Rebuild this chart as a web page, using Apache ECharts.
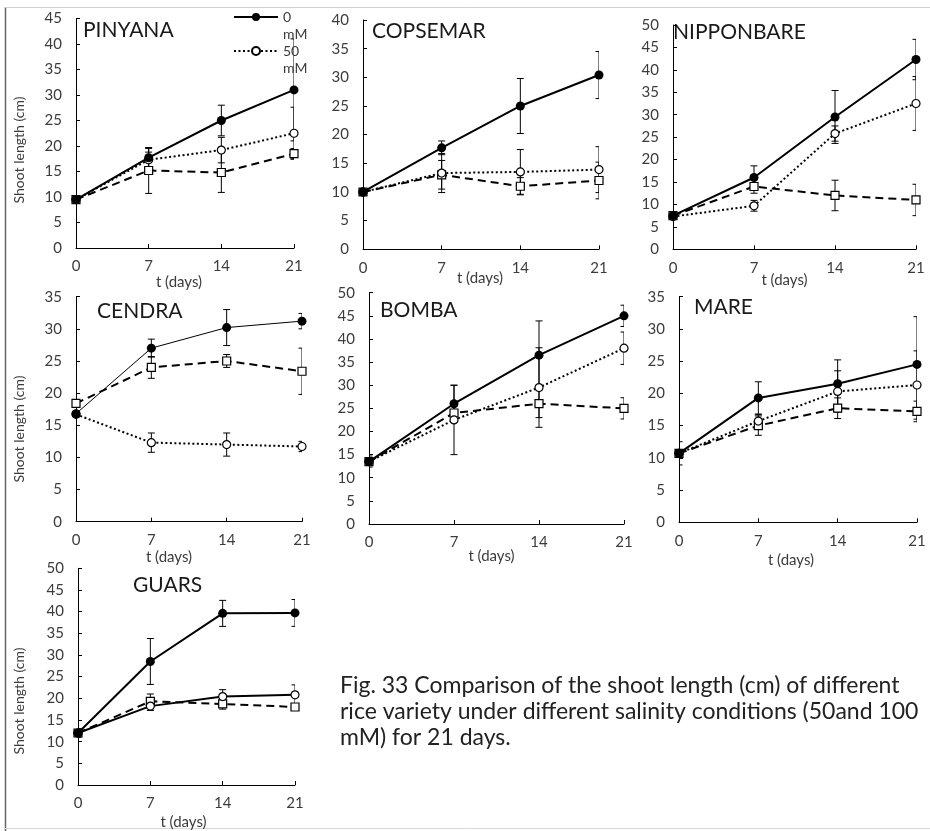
<!DOCTYPE html>
<html>
<head>
<meta charset="utf-8">
<script src="https://cdn.jsdelivr.net/npm/echarts@6/dist/echarts.min.js"></script>
<style>
  html, body { margin: 0; padding: 0; background: #fff; }
  #chart { width: 930px; height: 831px; }
</style>
</head>
<body>
<div id="chart"></div>
<script>
// Sampling days and salinity treatments
const days = [0, 7, 14, 21];
const treatments = ['0 mM', '50 mM', '100 mM'];
const varieties = ['PINYANA', 'COPSEMAR', 'NIPPONBARE', 'CENDRA', 'BOMBA', 'MARE', 'GUARS'];
const yMax = [45, 40, 50, 35, 50, 35, 50];

// Mean shoot length (cm); rows: 0, 50, 100 mM
const pinyanaMean = [[9.5, 17.7, 25.0, 31.0], [9.5, 17.3, 19.2, 22.5], [9.5, 15.2, 14.8, 18.5]];
const pinyanaErr  = [[0, 1.8, 3.0, 10.0], [0, 1.5, 2.5, 5.1], [0, 4.5, 3.9, 1.0]];

const copsemarMean = [[10.0, 17.7, 25.0, 30.4], [10.0, 13.3, 13.5, 13.9], [10.0, 13.0, 11.0, 12.0]];
const copsemarErr  = [[0, 1.2, 4.8, 4.1], [0, 3.4, 3.9, 4.0], [0, 2.5, 1.5, 3.2]];

const nipponbareMean = [[7.5, 16.0, 29.5, 42.3], [7.3, 9.7, 25.8, 32.5], [7.5, 14.0, 12.0, 11.0]];
const nipponbareErr  = [[0, 2.6, 5.9, 4.5], [0, 1.2, 1.7, 6.0], [0, 1.5, 3.4, 3.5]];

const cendraMean = [[16.8, 27.0, 30.2, 31.2], [16.7, 12.3, 12.0, 11.7], [18.4, 24.0, 25.0, 23.4]];
const cendraErr  = [[0, 1.4, 2.8, 1.2], [0.5, 1.5, 1.8, 0.8], [0, 1.7, 1.0, 3.6]];

const bombaMean = [[13.5, 26.0, 36.5, 45.0], [13.5, 22.5, 29.5, 38.0], [13.5, 24.0, 26.0, 25.0]];
const bombaErr  = [[1.2, 4.0, 7.4, 2.3], [0, 7.5, 8.6, 3.5], [0, 1.5, 3.0, 2.3]];

const mareMean = [[10.7, 19.3, 21.5, 24.5], [10.7, 15.7, 20.3, 21.3], [10.7, 15.0, 17.7, 17.2]];
const mareErr  = [[1.8, 2.5, 3.7, 7.4], [0, 1.0, 3.2, 5.3], [0, 1.5, 1.6, 1.6]];

const guarsMean = [[12.0, 28.5, 39.6, 39.7], [12.0, 18.2, 20.4, 20.8], [12.0, 19.3, 18.7, 18.0]];
const guarsErr  = [[0, 5.3, 3.0, 3.1], [1.0, 1.0, 1.6, 2.3], [0, 1.7, 1.2, 0.5]];

const means = [pinyanaMean, copsemarMean, nipponbareMean, cendraMean, bombaMean, mareMean, guarsMean];
const errs  = [pinyanaErr, copsemarErr, nipponbareErr, cendraErr, bombaErr, mareErr, guarsErr];

// Panel geometry (plot area in px) and label placement
const panels = [
  { left: 76,  top: 18.5,  width: 218, height: 229.5, title: [83, 30],  xName: [27, 12], yTitle: 150 },
  { left: 363, top: 20,    width: 236, height: 229.3, title: [372, 31], xName: [21, 2] },
  { left: 673, top: 25,    width: 243, height: 224.3, title: [673, 32], xName: [23, 20] },
  { left: 76,  top: 296.7, width: 226, height: 225,   title: [97, 311], xName: [28, 40], yTitle: 429 },
  { left: 369, top: 292.7, width: 255, height: 231.3, title: [380, 310], xName: [25, 10] },
  { left: 679, top: 296.7, width: 238, height: 225.6, title: [694, 307], xName: [30, 14] },
  { left: 78,  top: 568.3, width: 217, height: 225,   title: [133, 585], xName: [30, 6], yTitle: 701 }
];

const FONT = 'Lato, "Open Sans", sans-serif';
const LABEL = '#3c3c3c';

// Line / marker style per treatment
function treatmentStyle(t, variety) {
  if (t === 0) {
    return {
      symbol: 'circle', symbolSize: 9,
      itemStyle: { color: '#000' },
      lineStyle: { color: '#000', width: variety === 'CENDRA' ? 1 : 2, type: 'solid' }
    };
  }
  if (t === 1) {
    return {
      symbol: 'circle', symbolSize: 8,
      itemStyle: { color: '#fff', borderColor: '#000', borderWidth: 1.2 },
      lineStyle: { color: '#000', width: 2, type: variety === 'GUARS' ? 'solid' : [2, 2.5] }
    };
  }
  return {
    symbol: 'rect', symbolSize: 8,
    itemStyle: { color: '#fff', borderColor: '#000', borderWidth: 1.2 },
    lineStyle: { color: '#000', width: 2, type: [8, 5] }
  };
}

// Vertical error bar with short caps, clipped to the plot area
function renderErrorBar(params, api) {
  const x = api.value(0), lo = api.value(1), hi = api.value(2);
  if (hi - lo <= 0) return null;
  const top = api.coord([x, hi]);
  const bot = api.coord([x, lo]);
  const w = 3.5;
  const st = { stroke: '#000', lineWidth: 1 };
  return {
    type: 'group',
    children: [
      { type: 'line', shape: { x1: top[0], y1: top[1], x2: bot[0], y2: bot[1] }, style: st },
      { type: 'line', shape: { x1: top[0] - w, y1: top[1], x2: top[0] + w, y2: top[1] }, style: st },
      { type: 'line', shape: { x1: bot[0] - w, y1: bot[1], x2: bot[0] + w, y2: bot[1] }, style: st }
    ]
  };
}

const grid = [], xAxis = [], yAxis = [], series = [], graphic = [];

varieties.forEach((v, i) => {
  const p = panels[i];
  grid.push({ left: p.left, top: p.top, width: p.width, height: p.height, containLabel: false });
  xAxis.push({
    type: 'value', gridIndex: i, min: 0, max: 21, interval: 7,
    name: 't (days)', nameLocation: 'middle', nameGap: p.xName[0], nameMoveOverlap: false,
    nameTextStyle: { color: LABEL, fontSize: 15, fontFamily: FONT, padding: [0, p.xName[1], 0, 0] },
    axisLine: { lineStyle: { color: '#000', width: 1 } },
    axisTick: { inside: true, length: 4, lineStyle: { color: '#000' } },
    axisLabel: { color: LABEL, fontSize: 15, fontFamily: FONT, margin: 11, showMaxLabel: true, showMinLabel: true },
    splitLine: { show: false }
  });
  yAxis.push({
    type: 'value', gridIndex: i, min: 0, max: yMax[i], interval: 5,
    axisLine: { show: true, lineStyle: { color: '#000', width: 1 } },
    axisTick: { show: true, inside: true, length: 4, lineStyle: { color: '#000' } },
    axisLabel: { color: LABEL, fontSize: 15, fontFamily: FONT, margin: 14 },
    splitLine: { show: false }
  });

  const errData = [];
  [2, 1, 0].forEach(t => {
    const st = treatmentStyle(t, v);
    series.push(Object.assign({
      type: 'line', name: treatments[t], xAxisIndex: i, yAxisIndex: i,
      data: days.map((d, k) => [d, means[i][t][k]]),
      showAllSymbol: true, animation: false, z: 3 + (2 - t),
      emphasis: { disabled: true }
    }, st));
    days.forEach((d, k) => {
      const m = means[i][t][k], e = errs[i][t][k];
      errData.push([d, m - e, m + e]);
    });
  });
  series.push({
    type: 'custom', name: 'error', xAxisIndex: i, yAxisIndex: i,
    renderItem: renderErrorBar, data: errData, clip: true, z: 2,
    encode: { x: 0, y: [1, 2] }, animation: false, silent: true
  });

  graphic.push({
    type: 'text', x: p.title[0], y: p.title[1],
    style: { text: v, fontSize: 21, fontFamily: FONT, fill: '#1a1a1a', verticalAlign: 'middle' }
  });
  if (p.yTitle) {
    graphic.push({
      type: 'text', x: 19, y: p.yTitle, rotation: Math.PI / 2,
      style: { text: 'Shoot length (cm)', fontSize: 14, fontFamily: FONT, fill: LABEL,
               align: 'center', verticalAlign: 'middle' }
    });
  }
});

// Caption
graphic.push({
  type: 'text', x: 340, y: 712,
  style: {
    text: 'Fig. 33 Comparison of the shoot length (cm) of different\nrice variety under different salinity conditions (50and 100\nmM) for 21 days.',
    fontSize: 23, lineHeight: 26, fontFamily: FONT, fill: '#222', verticalAlign: 'middle'
  }
});
// Outer frame
graphic.push({ type: 'line', shape: { x1: 5.5, y1: 7, x2: 5.5, y2: 831 }, style: { stroke: '#666', lineWidth: 1.5 } });
graphic.push({ type: 'line', shape: { x1: 5, y1: 7.5, x2: 930, y2: 7.5 }, style: { stroke: '#d0d0d0', lineWidth: 1 } });
graphic.push({ type: 'line', shape: { x1: 5, y1: 828.5, x2: 930, y2: 828.5 }, style: { stroke: '#d8d8d8', lineWidth: 1 } });

const chart = echarts.init(document.getElementById('chart'), null, { renderer: 'canvas' });
chart.setOption({
  backgroundColor: '#fff',
  animation: false,
  grid, xAxis, yAxis, series, graphic,
  legend: {
    data: ['0 mM', '50 mM'],
    orient: 'vertical', left: 228, top: -13.5, padding: 5,
    itemWidth: 44, itemHeight: 10, itemGap: -17,
    // blank first line keeps the number level with the legend line
    formatter: name => ' \n' + name.replace(' ', '\n'),
    textStyle: { color: LABEL, fontSize: 14, fontFamily: FONT, lineHeight: 17 },
    selectedMode: false
  }
});
</script>
</body>
</html>
